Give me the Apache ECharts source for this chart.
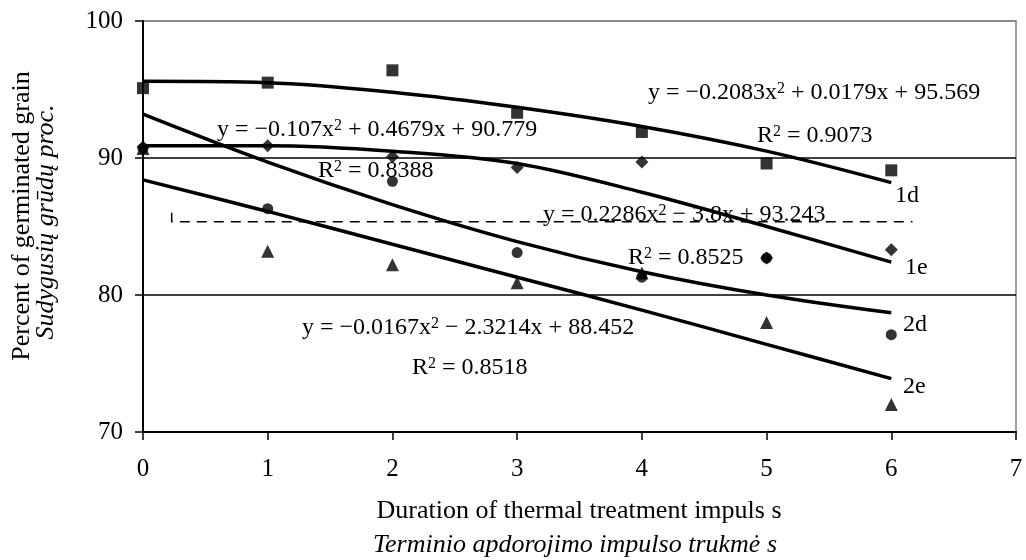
<!DOCTYPE html>
<html>
<head>
<meta charset="utf-8">
<script src="https://cdn.jsdelivr.net/npm/echarts@6/dist/echarts.min.js"></script>
<style>
  html, body { margin: 0; padding: 0; background: #fff; }
  #chart { width: 1026px; height: 560px; }
</style>
</head>
<body>
<div id="chart"></div>
<script>
// durations, s
const xValues = [0, 1, 2, 3, 4, 5, 6]

// measured points
const obs1d = [95.1, 95.5, 96.4, 93.3, 91.9, 89.6, 89.1]
const obs1e = [90.8, 90.9, 90.1, 89.3, 89.7, 82.7, 83.3]
const obs2d = [90.7, 86.3, 88.3, 83.1, 81.3, 82.7, 77.1]
const obs2e = [90.7, 83.2, 82.2, 80.9, 81.6, 78.0, 72.0]

// trend lines at each x
const trend1d = [95.6, 95.5, 94.8, 93.7, 92.3, 90.5, 88.2]
const trend1e = [90.9, 90.9, 90.5, 89.6, 87.5, 85.0, 82.4]
const trend2d = [93.2, 89.7, 86.6, 83.9, 81.7, 80.0, 78.7]
const trend2e = [88.4, 86.1, 83.7, 81.3, 78.9, 76.4, 73.9]

// stray dashed box edge under the 2d equation
const dashX = [0.23, 0.23, 6.17]
const dashY = [86.0, 85.35, 85.35]

const xTicks = [0, 1, 2, 3, 4, 5, 6, 7]
const yTicks = [70, 80, 90, 100]

const FONT = 'Liberation Serif'

function pairs (xs, ys) {
  return xs.map((x, i) => [x, ys[i]])
}

function trendSeries (name, values) {
  return {
    name: name,
    type: 'line',
    data: pairs(xValues, values),
    smooth: 0.35,
    symbol: 'none',
    silent: true,
    z: 3,
    lineStyle: { color: '#000', width: 3.5 }
  }
}

function pointSeries (name, values, symbol, size) {
  return {
    name: name,
    type: 'scatter',
    data: pairs(xValues, values),
    symbol: symbol,
    symbolSize: size,
    z: 4,
    itemStyle: { color: '#000' }
  }
}

// equation / R2 / series labels
function label (text, x, y) {
  return {
    type: 'text',
    x: x,
    y: y,
    z: 10,
    style: {
      text: text,
      fontFamily: FONT,
      fontSize: 24,
      fill: '#000',
      verticalAlign: 'middle',
      rich: {
        sup: { fontFamily: FONT, fontSize: 16, verticalAlign: 'top', lineHeight: 20 }
      }
    }
  }
}

const chart = echarts.init(document.getElementById('chart'), null, { renderer: 'canvas' })

chart.setOption({
  backgroundColor: '#fff',
  animation: false,
  grid: {
    left: 143,
    right: 10,
    top: 21,
    bottom: 128,
    show: true,
    borderColor: '#808080',
    borderWidth: 1.5
  },
  xAxis: {
    type: 'value',
    min: xTicks[0],
    max: xTicks[xTicks.length - 1],
    interval: 1,
    axisLine: { lineStyle: { color: '#000', width: 2 } },
    axisTick: { show: true, length: 8, lineStyle: { color: '#000', width: 1.5 } },
    axisLabel: { color: '#000', fontFamily: FONT, fontSize: 25, margin: 25 },
    splitLine: { show: false }
  },
  yAxis: {
    type: 'value',
    min: yTicks[0],
    max: yTicks[yTicks.length - 1],
    interval: 10,
    axisLine: { show: true, lineStyle: { color: '#000', width: 2 } },
    axisTick: { show: true, length: 8, lineStyle: { color: '#000', width: 1.5 } },
    axisLabel: { color: '#000', fontFamily: FONT, fontSize: 25, margin: 20 },
    splitLine: {
      show: true,
      lineStyle: { color: ['#000', '#000', '#000', '#808080'], width: 1.5 }
    }
  },
  series: [
    {
      name: 'dashed',
      type: 'line',
      data: pairs(dashX, dashY),
      symbol: 'none',
      silent: true,
      z: 2,
      lineStyle: { color: '#000', width: 1.5, type: [10, 7] }
    },
    trendSeries('1d trend', trend1d),
    trendSeries('1e trend', trend1e),
    trendSeries('2d trend', trend2d),
    trendSeries('2e trend', trend2e),
    pointSeries('2d', obs2d, 'circle', 11),
    pointSeries('1e', obs1e, 'diamond', 13),
    pointSeries('1d', obs1d, 'rect', 12),
    pointSeries('2e', obs2e, 'triangle', 13)
  ],
  graphic: [
    label('y = −0.2083x{sup|2} + 0.0179x + 95.569', 648, 93),
    label('R{sup|2} = 0.9073', 757, 136),
    label('y = −0.107x{sup|2} + 0.4679x + 90.779', 217, 130),
    label('R{sup|2} = 0.8388', 318, 171),
    label('y = 0.2286x{sup|2} − 3.8x + 93.243', 543, 215),
    label('R{sup|2} = 0.8525', 628, 258),
    label('y = −0.0167x{sup|2} − 2.3214x + 88.452', 302, 328),
    label('R{sup|2} = 0.8518', 412, 368),
    label('1d', 895, 196),
    label('1e', 905, 268),
    label('2d', 903, 325),
    label('2e', 903, 387),
    // axis titles
    {
      type: 'text',
      x: 579,
      y: 511,
      style: { text: 'Duration of thermal treatment impuls s', fontFamily: FONT, fontSize: 26, fill: '#000', align: 'center', verticalAlign: 'middle' }
    },
    {
      type: 'text',
      x: 575,
      y: 545,
      style: { text: 'Terminio apdorojimo impulso trukmė s', fontFamily: FONT, fontSize: 26, fontStyle: 'italic', fill: '#000', align: 'center', verticalAlign: 'middle' }
    },
    {
      type: 'text',
      x: 22,
      y: 216,
      rotation: Math.PI / 2,
      style: { text: 'Percent of germinated grain', fontFamily: FONT, fontSize: 26, fill: '#000', align: 'center', verticalAlign: 'middle' }
    },
    {
      type: 'text',
      x: 46,
      y: 222,
      rotation: Math.PI / 2,
      style: { text: 'Sudygusių grūdų proc.', fontFamily: FONT, fontSize: 26, fontStyle: 'italic', fill: '#000', align: 'center', verticalAlign: 'middle' }
    }
  ]
})
</script>
</body>
</html>
